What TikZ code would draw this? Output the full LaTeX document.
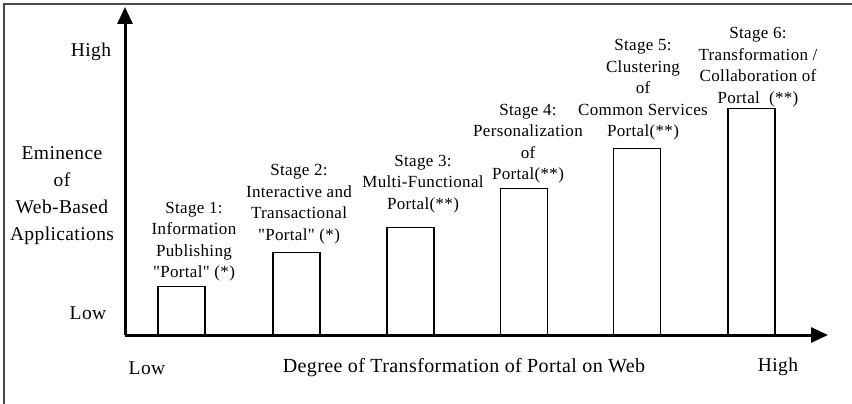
\documentclass[tikz,border=0pt]{standalone}
\usepackage{fontspec}
\setmainfont{Liberation Serif}
\newfontfamily\spaced[LetterSpace=2]{Liberation Serif}
\usetikzlibrary{arrows.meta}
\newcommand{\qq}{\symbol{34}}
\tikzset{
  axis/.style={line width=3pt, -{Triangle[length=17pt,width=15pt]}},
  bar/.style={draw, line width=1.3pt, fill=white, minimum width=47pt, inner sep=0pt, anchor=south},
  stagelbl/.style={align=center, inner sep=0pt, font=\spaced\fontsize{17}{21.5}\selectfont},
  axlbl/.style={align=center, inner sep=0pt, font=\spaced\fontsize{19.5}{27}\selectfont},
  frame/.style={draw=black!70, line width=1.2pt}
}
\begin{document}
\begin{tikzpicture}[x=1pt, y=-1pt]
\useasboundingbox (0,0) rectangle (852,404);
\draw[frame] (4,404) -- (4,4) -- (852,4);
% origin
\coordinate (O) at (125,335);
\coordinate (ytip) at (125,7);
\coordinate (xtip) at (828,335);
% bars
\node[bar, minimum height=48pt] (b1) at (181.5,335) {};
\node[bar, minimum height=82pt] (b2) at (296.5,335) {};
\node[bar, minimum height=107pt] (b3) at (410.5,335) {};
\node[bar, minimum height=146pt] (b4) at (524,335) {};
\node[bar, minimum height=186pt] (b5) at (637,335) {};
\node[bar, minimum height=226pt] (b6) at (751.5,335) {};
% axes
\draw[axis] (O) -- (ytip);
\draw[axis] (O) -- (xtip);
% axis labels
\node[axlbl] (yhigh) at (91,52) {High};
\node[axlbl] (ylow) at (88,313) {Low};
\node[axlbl] (ylabel) at (62,196) {Eminence\\of\\Web-Based\\Applications};
\node[axlbl] (xlow) at (147,368) {Low};
\node[axlbl, font=\spaced\fontsize{20}{24}\selectfont] (xlabel) at (464,368) {Degree of Transformation of Portal on Web};
\node[axlbl] (xhigh) at (778,367) {High};
% stage labels
\node[stagelbl] (s1) at (194,241.5) {Stage 1:\\Information\\Publishing\\\qq Portal\qq\ (*)};
\node[stagelbl] (s2) at (299,204) {Stage 2:\\Interactive and\\Transactional\\\qq Portal\qq\ (*)};
\node[stagelbl] (s3) at (423,184) {Stage 3:\\Multi-Functional\\Portal(**)};
\node[stagelbl] (s4) at (528,143.5) {Stage 4:\\Personalization\\of\\Portal(**)};
\node[stagelbl] (s5) at (643,90) {Stage 5:\\Clustering\\of\\Common Services\\Portal(**)};
\node[stagelbl] (s6) at (758,67) {Stage 6:\\Transformation /\\Collaboration of\\Portal\ \ (**)};
\end{tikzpicture}
\end{document}
